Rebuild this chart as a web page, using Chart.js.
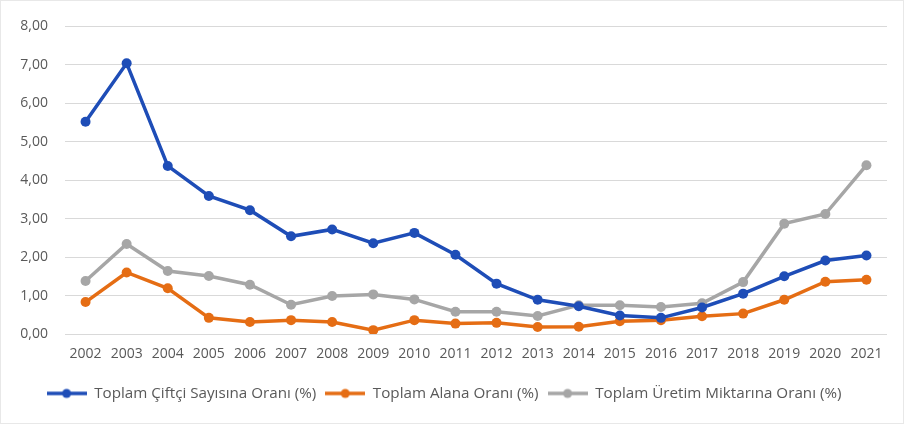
<!DOCTYPE html>
<html>
<head>
<meta charset="utf-8">
<script src="https://cdn.jsdelivr.net/npm/chart.js@4.4.1/dist/chart.umd.min.js"></script>
<style>
  html, body { margin: 0; padding: 0; background: #fff; }
  #wrap { position: relative; width: 904px; height: 424px; box-sizing: border-box; border: 1px solid #e8e8e8; }
  canvas { display: block; }
</style>
</head>
<body>
<div id="wrap"><canvas id="myChart" width="902" height="422"></canvas></div>
<script>
const years = ['2002','2003','2004','2005','2006','2007','2008','2009','2010','2011',
               '2012','2013','2014','2015','2016','2017','2018','2019','2020','2021'];
const ciftciOrani = [5.52, 7.04, 4.37, 3.59, 3.22, 2.54, 2.72, 2.36, 2.63, 2.06,
                     1.31, 0.89, 0.72, 0.48, 0.42, 0.69, 1.05, 1.50, 1.91, 2.04];
const alanOrani = [0.83, 1.60, 1.19, 0.42, 0.31, 0.36, 0.31, 0.10, 0.36, 0.27,
                   0.29, 0.18, 0.19, 0.33, 0.36, 0.46, 0.53, 0.89, 1.36, 1.41];
const uretimOrani = [1.38, 2.34, 1.64, 1.51, 1.28, 0.76, 0.99, 1.03, 0.90, 0.58,
                     0.58, 0.47, 0.75, 0.75, 0.70, 0.80, 1.35, 2.87, 3.12, 4.39];
const seriesNames = ['Toplam Çiftçi Sayısına Oranı (%)', 'Toplam Alana Oranı (%)', 'Toplam Üretim Miktarına Oranı (%)'];
const yTicks = [0, 1, 2, 3, 4, 5, 6, 7, 8];

const colors = ['#1e4db7', '#e56d14', '#a6a6a6'];

// legend symbol: short line with a dot in the middle, like the office style
function legendSymbol(color) {
  const c = document.createElement('canvas');
  c.width = 40; c.height = 12;
  const g = c.getContext('2d');
  g.strokeStyle = color; g.lineWidth = 3.5;
  g.beginPath(); g.moveTo(0, 6); g.lineTo(40, 6); g.stroke();
  g.fillStyle = color;
  g.beginPath(); g.arc(20, 6, 4.5, 0, Math.PI * 2); g.fill();
  return c;
}

function mkSet(i, data) {
  return {
    label: seriesNames[i],
    data: data,
    borderColor: colors[i],
    backgroundColor: colors[i],
    borderWidth: 3.5,
    pointRadius: 5,
    pointBorderWidth: 0,
    pointStyle: 'circle',
    tension: 0
  };
}

const ctx = document.getElementById('myChart');
new Chart(ctx, {
  type: 'line',
  data: {
    labels: years,
    datasets: [mkSet(0, ciftciOrani), mkSet(1, alanOrani), mkSet(2, uretimOrani)]
  },
  options: {
    responsive: false,
    animation: false,
    layout: { padding: { top: 17, right: 16, left: 0, bottom: 12 } },
    plugins: {
      tooltip: { enabled: false },
      legend: {
        position: 'bottom',
        labels: {
          usePointStyle: true,
          pointStyleWidth: 40,
          padding: 9,
          color: '#595959',
          font: { family: 'Open Sans', size: 15.2 },
          generateLabels(chart) {
            return chart.data.datasets.map((ds, i) => ({
              text: ds.label,
              pointStyle: legendSymbol(colors[i]),
              fillStyle: colors[i],
              strokeStyle: colors[i],
              lineWidth: 0,
              fontColor: '#595959',
              datasetIndex: i
            }));
          }
        }
      }
    },
    scales: {
      x: {
        offset: true,
        grid: { display: false },
        border: { display: false },
        afterFit(axis) { axis.height += 10; },
        ticks: { color: '#595959', font: { family: 'Open Sans', size: 14 }, padding: 4, maxRotation: 0 }
      },
      y: {
        min: 0,
        max: 8,
        afterBuildTicks(axis) { axis.ticks = yTicks.map(v => ({ value: v })); },
        afterFit(axis) { axis.width = 64; },
        grid: { color: '#d9d9d9', lineWidth: 1, drawTicks: false },
        border: { display: false },
        ticks: {
          color: '#595959',
          padding: 17,
          font: { family: 'Open Sans', size: 14 },
          callback: v => v.toFixed(2).replace('.', ',')
        }
      }
    }
  }
});
</script>
</body>
</html>
